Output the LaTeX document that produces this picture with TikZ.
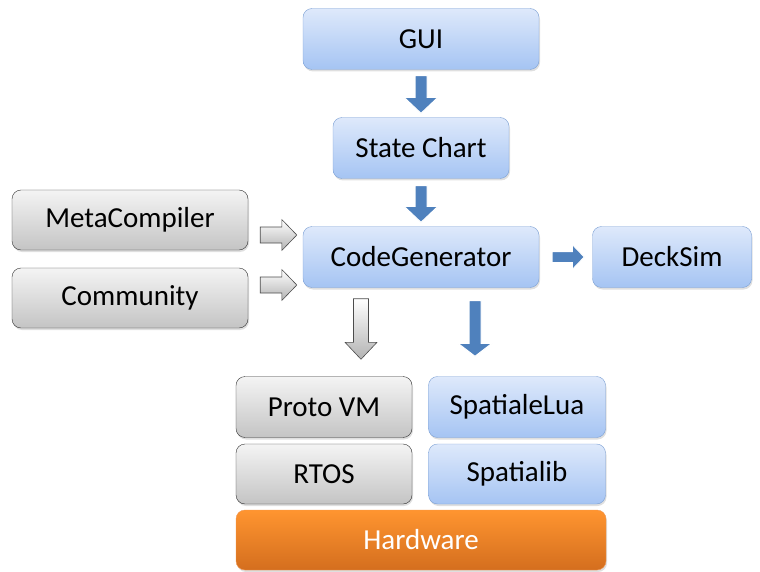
\documentclass[tikz,border=0pt]{standalone}
\usepackage{fontspec}
\setmainfont{Carlito}
\usetikzlibrary{calc,shadows}
\definecolor{bluetop}{RGB}{222,233,251}
\definecolor{bluebot}{RGB}{165,196,243}
\definecolor{blueline}{RGB}{124,160,212}
\definecolor{graytop}{RGB}{244,244,244}
\definecolor{graybot}{RGB}{196,196,196}
\definecolor{grayline}{RGB}{50,50,50}
\definecolor{hwtop}{RGB}{255,149,48}
\definecolor{hwbot}{RGB}{212,110,30}
\definecolor{hwline}{RGB}{240,150,80}
\definecolor{arrowblue}{RGB}{79,129,189}
\begin{document}
\begin{tikzpicture}[x=1pt, y=-1pt,
  box/.style={rounded corners=9pt, minimum height=61pt, inner sep=0pt,
    font=\fontsize{29}{34}\selectfont,
    drop shadow={opacity=0.25, shadow xshift=1pt, shadow yshift=-2pt}},
  bluebox/.style={box, draw=blueline, top color=bluetop, bottom color=bluebot},
  graybox/.style={box, draw=grayline, top color=graytop, bottom color=graybot},
  hwbox/.style={box, draw=hwline, top color=hwtop, bottom color=hwbot, text=white},
  % half shaft width, half head width, head length
  blockarrow/.style n args={3}{to path={coordinate (ba-s) (\tikztotarget) coordinate (ba-t)
    ($(ba-t)!#3!(ba-s)$) coordinate (ba-h)
    ($(ba-s)!#1!90:(ba-t)$) -- ($(ba-h)!#1!90:(ba-t)$) -- ($(ba-h)!#2!90:(ba-t)$)
    -- (ba-t) -- ($(ba-h)!#2!-90:(ba-t)$) -- ($(ba-h)!#1!-90:(ba-t)$)
    -- ($(ba-s)!#1!-90:(ba-t)$) -- cycle}},
  bluearrow/.style n args={3}{blockarrow={#1}{#2}{#3}, fill=arrowblue, draw=white, line width=1pt},
  grayarrow/.style n args={3}{blockarrow={#1}{#2}{#3}, draw=black!70, line width=0.6pt,
    top color=white, bottom color=black!30},
]
\useasboundingbox (0,0) rectangle (760,572);

% upper chain
\node [bluebox, minimum width=236pt] (gui) at (421,39) {GUI};
\node [bluebox, minimum width=176pt] (chart) at (421,148) {State Chart};
\node [bluebox, minimum width=236pt] (cg) at (421,257) {CodeGenerator};
\node [bluebox, minimum width=159pt] (deck) at (672,257) {DeckSim};

% inputs
\node [graybox, minimum width=236pt, minimum height=60pt] (meta) at (130,220) {MetaCompiler};
\node [graybox, minimum width=236pt, minimum height=60pt] (comm) at (130,298) {Community};

% targets
\node [graybox, minimum width=176pt] (proto) at (324,407) {Proto VM};
\node [graybox, minimum width=176pt, minimum height=60pt] (rtos) at (324,474) {RTOS};
\node [bluebox, minimum width=177pt] (slua) at (517,407) {SpatialeLua};
\node [bluebox, minimum width=177pt, minimum height=60pt] (slib) at (517,474) {Spatialib};
\node [hwbox, minimum width=370pt, minimum height=60pt] (hw) at (421,540) {Hardware};

% arrows
\draw [bluearrow={6pt}{17pt}{16pt}] ($(gui.south)+(0,6)$) to ($(chart.north)+(0,-4)$);
\draw [bluearrow={6pt}{17pt}{16pt}] ($(chart.south)+(0,7)$) to ($(cg.north)+(0,-4)$);
\draw [bluearrow={5.5pt}{12.5pt}{12pt}] ($(cg.east)+(13,0)$) to ($(deck.west)+(-8,0)$);
\coordinate (in1) at ($(cg.west)+(-6,-22)$);
\coordinate (in2) at ($(cg.west)+(-6,28)$);
\draw [grayarrow={8pt}{15.5pt}{15pt}] ($(meta.east |- in1)+(12,0)$) to (in1);
\draw [grayarrow={8pt}{15.5pt}{15pt}] ($(comm.east |- in2)+(12,0)$) to (in2);
\coordinate (out1) at ($(cg.south)+(-60,11)$);
\coordinate (out2) at ($(cg.south)+(54,13)$);
\draw [grayarrow={7.5pt}{16pt}{17pt}] (out1) to ($(out1 |- proto.north)+(0,-17)$);
\draw [bluearrow={6pt}{17pt}{13pt}] (out2) to ($(out2 |- slua.north)+(0,-20)$);
\end{tikzpicture}
\end{document}
